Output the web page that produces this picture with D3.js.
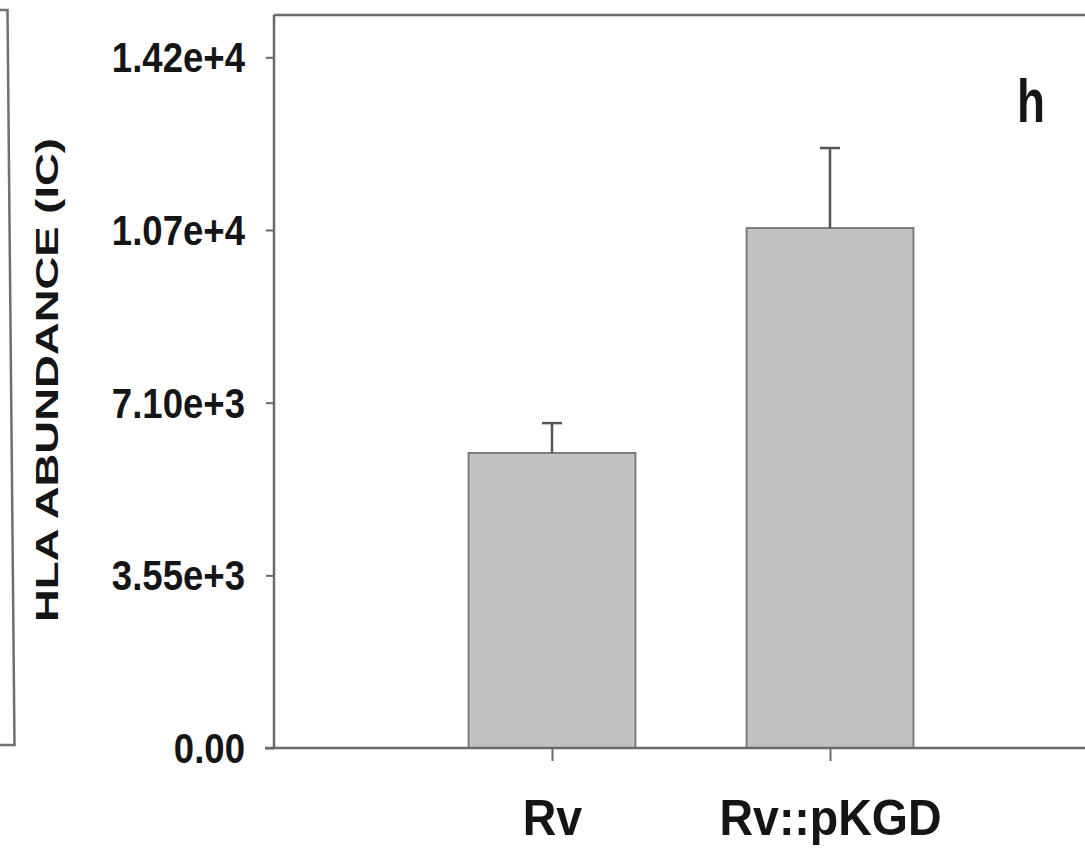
<!DOCTYPE html>
<html>
<head>
<meta charset="utf-8">
<script src="https://cdn.jsdelivr.net/npm/d3@7"></script>
<style>
  html, body { margin: 0; padding: 0; background: #ffffff; }
  svg { display: block; }
  text { font-family: "Liberation Sans", Arial, sans-serif; font-weight: bold; fill: #151515; }
</style>
</head>
<body>
<svg id="chart" width="1085" height="849"></svg>
<script>
// ---- data ----
const categories = ["Rv", "Rv::pKGD"];
const means = [6065, 10690];
const errorTops = [6680, 12335];
const yTickValues = [0, 3550, 7100, 10650, 14200];
const yTickLabels = ["0.00", "3.55e+3", "7.10e+3", "1.07e+4", "1.42e+4"];
const yMax = 15070;
const yTitle = "HLA ABUNDANCE (IC)";
const panelLetter = "h";

// ---- layout ----
const svg = d3.select("#chart");
const plotLeft = 274, plotRight = 1108, plotTop = 15, plotBottom = 748;
const axisColor = "#6a6a6a";

const x = d3.scaleLinear().domain([0, categories.length + 1]).range([plotLeft, plotRight]);
const y = d3.scaleLinear().domain([0, yMax]).range([plotBottom, plotTop]);
const step = x(1) - x(0);
const barW = step * 0.6;

// neighbouring panel fragment on the far left
svg.append("path")
  .attr("d", "M0,10 L7.5,10 L14.5,745 L0,745")
  .attr("fill", "none").attr("stroke", "#707070").attr("stroke-width", 2.5);

// frame top line (right side runs off-screen)
svg.append("line")
  .attr("x1", plotLeft).attr("x2", plotRight).attr("y1", plotTop).attr("y2", plotTop)
  .attr("stroke", axisColor).attr("stroke-width", 2.5);

// bars
const idx = d3.range(categories.length);
svg.append("g").selectAll("rect").data(idx).join("rect")
  .attr("x", i => x(i + 1) - barW / 2)
  .attr("y", i => y(means[i]))
  .attr("width", barW)
  .attr("height", i => y(0) - y(means[i]))
  .attr("fill", "#c1c2c1")
  .attr("stroke", "#7c7c7c")
  .attr("stroke-width", 2);

// error bars
const eg = svg.append("g").attr("stroke", "#555").attr("stroke-width", 2.5);
eg.selectAll("line.v").data(idx).join("line").attr("class", "v")
  .attr("x1", i => x(i + 1)).attr("x2", i => x(i + 1))
  .attr("y1", i => y(means[i])).attr("y2", i => y(errorTops[i]));
eg.selectAll("line.c").data(idx).join("line").attr("class", "c")
  .attr("x1", i => x(i + 1) - 10).attr("x2", i => x(i + 1) + 10)
  .attr("y1", i => y(errorTops[i])).attr("y2", i => y(errorTops[i]));

// y axis
const yAxis = d3.axisLeft(y)
  .tickValues(yTickValues)
  .tickFormat((d, i) => yTickLabels[i])
  .tickSize(8).tickPadding(21).tickSizeOuter(0);
const gy = svg.append("g").attr("transform", `translate(${plotLeft},0)`).call(yAxis);
gy.select(".domain").attr("stroke", axisColor).attr("stroke-width", 2.5)
  .attr("d", `M0,${plotTop}V${plotBottom}`);
gy.selectAll(".tick line").attr("stroke", axisColor).attr("stroke-width", 2);
gy.selectAll(".tick text")
  .attr("font-size", 43).attr("fill", "#151515")
  .attr("font-family", "Liberation Sans, Arial, sans-serif").attr("font-weight", "bold")
  .attr("dy", "0.34em")
  .attr("data-sx", 0.85);

// x axis
const xAxis = d3.axisBottom(x)
  .tickValues(idx.map(i => i + 1))
  .tickFormat(d => categories[d - 1])
  .tickSize(13).tickPadding(0).tickSizeOuter(0);
const gx = svg.append("g").attr("transform", `translate(0,${plotBottom})`).call(xAxis);
gx.select(".domain").attr("stroke", axisColor).attr("stroke-width", 2.5)
  .attr("d", `M${plotLeft - 9},0H${plotRight}`);
gx.selectAll(".tick line").attr("stroke", axisColor).attr("stroke-width", 2);
gx.selectAll(".tick text")
  .attr("font-size", 50).attr("fill", "#151515")
  .attr("font-family", "Liberation Sans, Arial, sans-serif").attr("font-weight", "bold")
  .attr("y", 87).attr("dy", 0)
  .attr("data-sx", 0.93);

// y axis title
svg.append("text")
  .attr("transform", `translate(58,380) rotate(-90)`)
  .attr("text-anchor", "middle")
  .attr("font-size", 32)
  .attr("data-len", 484)
  .text(yTitle);

// panel letter
svg.append("text")
  .attr("x", 1031).attr("y", 122)
  .attr("text-anchor", "middle")
  .attr("font-size", 62)
  .attr("data-len", 28)
  .text(panelLetter);

// condense/stretch text to match the reference's proportions
svg.selectAll("text").each(function () {
  const el = d3.select(this);
  const sx = el.attr("data-sx");
  const len = el.attr("data-len");
  const w = this.getComputedTextLength();
  let target = null;
  if (sx) target = w * (+sx);
  if (len) target = +len;
  if (target) el.attr("textLength", target).attr("lengthAdjust", "spacingAndGlyphs");
});
</script>
</body>
</html>
